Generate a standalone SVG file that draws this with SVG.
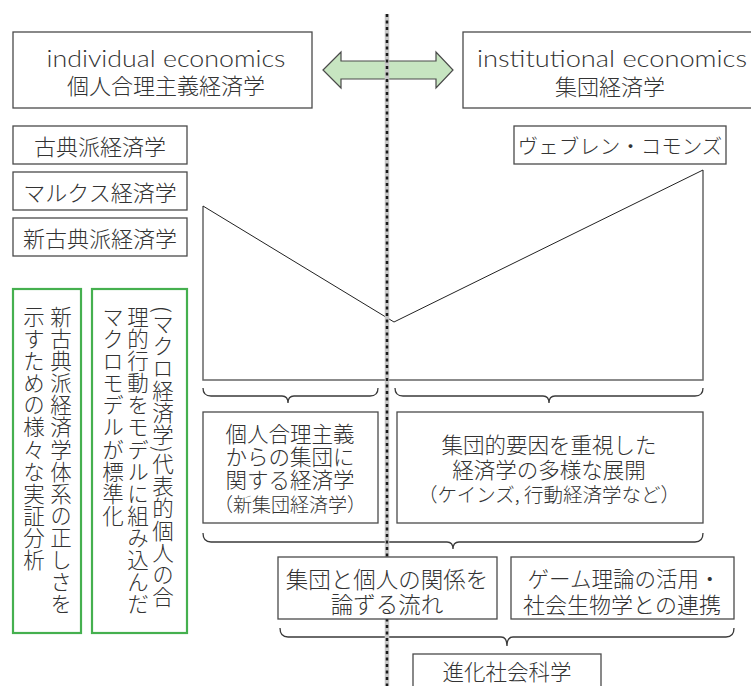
<svg xmlns="http://www.w3.org/2000/svg" width="751" height="686" viewBox="0 0 751 686">
<style>
.box{fill:#fff;stroke:#4a4a4a;stroke-width:1.3}
.gbox{fill:#fff;stroke:#45b04f;stroke-width:2.2}
.jp{font-family:"Noto Sans CJK JP","Noto Sans",sans-serif;font-weight:300;fill:#333;text-anchor:middle;dominant-baseline:central}
.en{font-family:Lato,"Liberation Sans",sans-serif;font-weight:300;fill:#333;text-anchor:middle}
.vt{font-family:"Noto Sans CJK JP",sans-serif;font-weight:300;fill:#333;font-size:21.5px;letter-spacing:0.6px;writing-mode:vertical-rl}
.brace{fill:none;stroke:#3a3a3a;stroke-width:1.3}
</style>
<rect width="751" height="686" fill="#fff"/>
<g id="connectors">
  <path id="double-arrow" d="M323,70 L341,52 L341,61 L436,61 L436,52 L453,70 L436,88 L436,79 L341,79 L341,88 Z" fill="#c7e5c1" stroke="#4a4a4a" stroke-width="1.2"/>
  <g id="chart">
    <path d="M203,206 L203,380 L703,380 L703,170" fill="none" stroke="#666" stroke-width="1.5"/>
    <path d="M203,206 L394,322 L703,170" fill="none" stroke="#222" stroke-width="1"/>
  </g>
  <path class="brace" d="M203,388 Q203,396 211,396 H282 Q288,396 288,403 Q288,396 294,396 H370 Q378,396 378,388"/>
  <path class="brace" d="M395,388 Q395,396 403,396 H543 Q549,396 549,403 Q549,396 555,396 H695 Q703,396 703,388"/>
  <path class="brace" d="M203,533 Q203,542 211,542 H447 Q453,542 453,549 Q453,542 459,542 H695 Q703,542 703,533"/>
  <path class="brace" d="M280,628 Q280,637 288,637 H501 Q507,637 507,646 Q507,637 513,637 H726 Q734,637 734,628"/>
</g>
<g id="divider">
  <line x1="387" y1="14" x2="387" y2="686" stroke="#c6c6c6" stroke-width="4.5"/>
  <line x1="387" y1="14" x2="387" y2="686" stroke="#1a1a1a" stroke-width="2.5" stroke-dasharray="3 3.5"/>
</g>
<g id="individual-economics">
  <rect class="box" x="13" y="32" width="299" height="76"/>
  <text class="en" x="166" y="67" font-size="22.5" textLength="239" lengthAdjust="spacingAndGlyphs">individual economics</text>
  <text class="jp" x="166" y="84" font-size="22">個人合理主義経済学</text>
</g>
<g id="institutional-economics">
  <rect class="box" x="463" y="32" width="300" height="76"/>
  <text class="en" x="612" y="67" font-size="22.5" textLength="270" lengthAdjust="spacingAndGlyphs">institutional economics</text>
  <text class="jp" x="610" y="85" font-size="22">集団経済学</text>
</g>
<g id="classical">
  <rect class="box" x="13" y="126" width="174" height="38"/>
  <text class="jp" x="100" y="145" font-size="22">古典派経済学</text>
</g>
<g id="marxian">
  <rect class="box" x="13" y="172" width="174" height="38"/>
  <text class="jp" x="100" y="191" font-size="22">マルクス経済学</text>
</g>
<g id="neoclassical">
  <rect class="box" x="13" y="218" width="174" height="38"/>
  <text class="jp" x="100" y="237" font-size="22">新古典派経済学</text>
</g>
<g id="veblen-commons">
  <rect class="box" x="514" y="126" width="212" height="38"/>
  <text class="jp" x="620" y="145" font-size="20.5">ヴェブレン・コモンズ</text>
</g>
<g id="empirical">
  <rect class="gbox" x="13" y="289" width="68" height="344"/>
  <text class="vt" x="61" y="306">新古典派経済学体系の正しさを</text>
  <text class="vt" x="34" y="306">示すための様々な実証分析</text>
</g>
<g id="macro">
  <rect class="gbox" x="92" y="289" width="95" height="344"/>
  <text class="vt" x="163" y="306">(マクロ経済学)代表的個人の合</text>
  <text class="vt" x="138" y="306">理的行動をモデルに組み込んだ</text>
  <text class="vt" x="113" y="306">マクロモデルが標準化</text>
</g>
<g id="new-group-economics">
  <rect class="box" x="203" y="412" width="175" height="111"/>
  <text class="jp" x="290" y="432" font-size="21.5">個人合理主義</text>
  <text class="jp" x="290" y="455" font-size="21.5">からの集団に</text>
  <text class="jp" x="290" y="478" font-size="21.5">関する経済学</text>
  <text class="jp" x="290" y="503" font-size="19">（新集団経済学）</text>
</g>
<g id="diverse-development">
  <rect class="box" x="397" y="412" width="306" height="111"/>
  <text class="jp" x="549" y="443" font-size="21.5">集団的要因を重視した</text>
  <text class="jp" x="549" y="468" font-size="21.5">経済学の多様な展開</text>
  <text class="jp" x="549" y="493" font-size="19.5">（ケインズ, 行動経済学など）</text>
</g>
<g id="group-individual">
  <rect class="box" x="278" y="557" width="219" height="62"/>
  <text class="jp" x="387" y="578" font-size="22.5">集団と個人の関係を</text>
  <text class="jp" x="387" y="603" font-size="22.5">論ずる流れ</text>
</g>
<g id="game-theory">
  <rect class="box" x="511" y="557" width="223" height="62"/>
  <text class="jp" x="624" y="577" font-size="21.5">ゲーム理論の活用・</text>
  <text class="jp" x="622" y="603" font-size="22">社会生物学との連携</text>
</g>
<g id="evolutionary-social-science">
  <rect class="box" x="413" y="654" width="188" height="50"/>
  <text class="jp" x="507" y="670" font-size="21.5">進化社会科学</text>
</g>
</svg>
